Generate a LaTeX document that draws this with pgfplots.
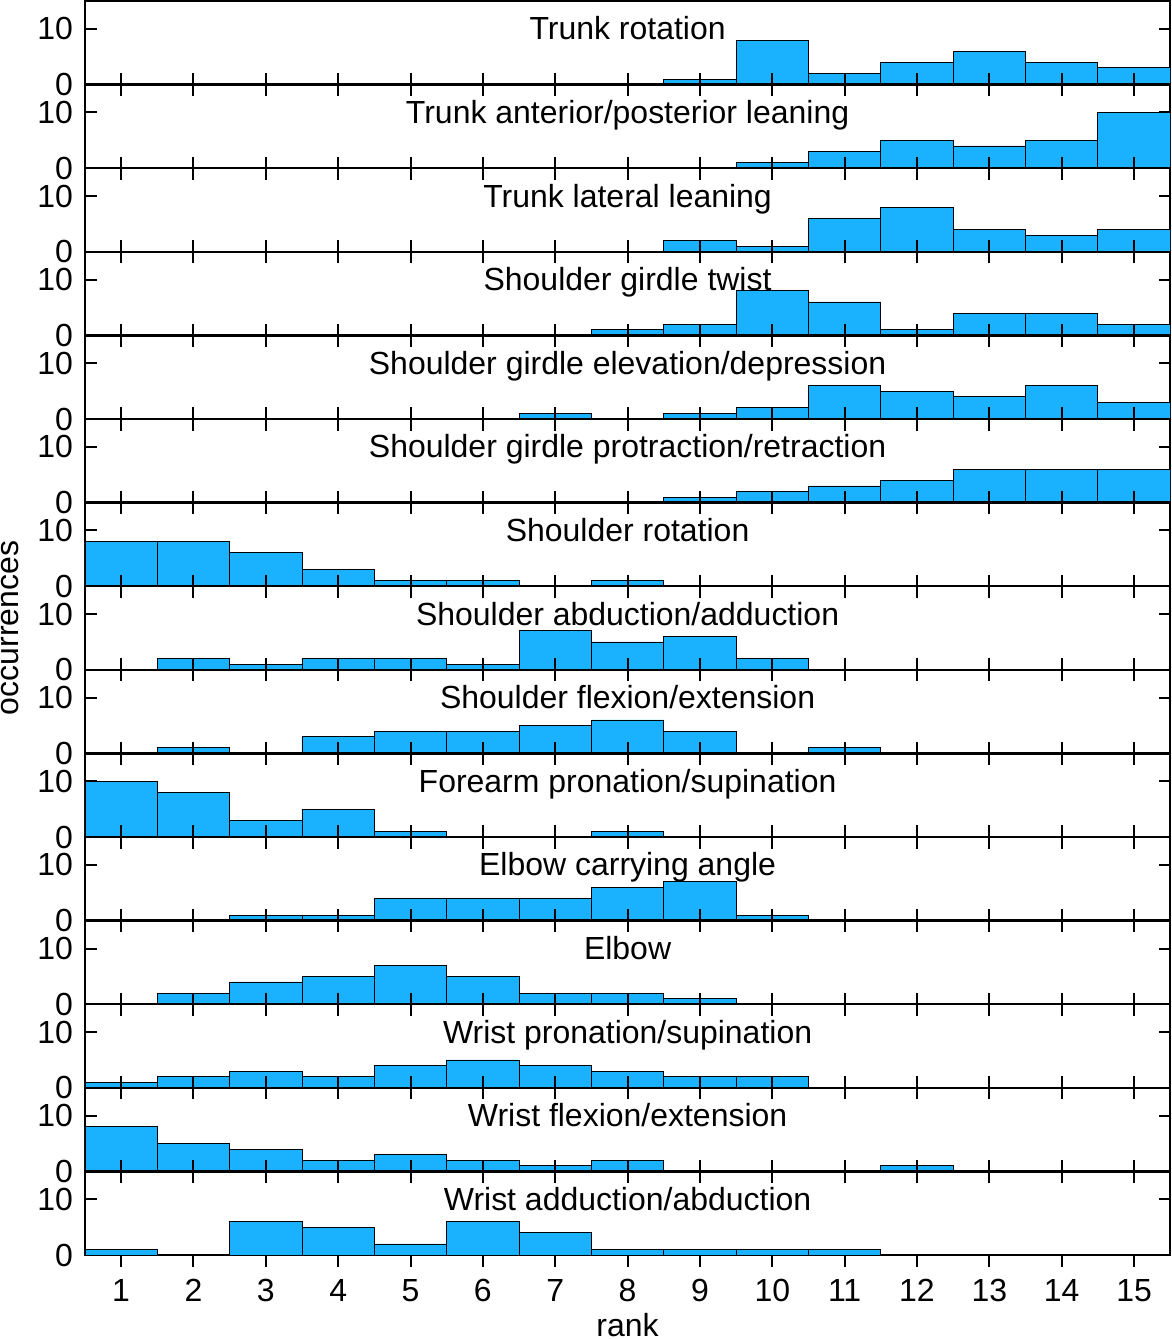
\documentclass[border=0pt]{standalone}
\usepackage{fontspec}
\setmainfont{Liberation Sans}
\usepackage{pgfplots}
\pgfplotsset{compat=1.18}
\usepgfplotslibrary{groupplots}
\definecolor{barblue}{RGB}{26,178,255}
\newcommand{\ttl}[1]{\node[anchor=base,inner sep=0pt,font=\fontsize{16}{19}\selectfont] at (rel axis cs:0.5,0.535) {#1};}
\begin{document}
\begin{tikzpicture}
\begin{groupplot}[
  group style={group size=1 by 15, vertical sep=0pt, xticklabels at=edge bottom},
  scale only axis, width=543pt, height=41.83pt,
  xmin=0.5, xmax=15.5, ymin=0, ymax=15,
  xtick={1,...,15}, ytick={0,10},
  tick align=inside, major tick length=5.8pt,
  every tick/.style={black, line width=1pt},
  axis line style={line width=1.2pt},
  ybar, /pgf/bar width=1,
  cycle list={{fill=barblue, draw=black, line width=0.9pt}},
  /pgf/number format/assume math mode=true,
  ticklabel style={font=\fontsize{16}{19}\selectfont},
  yticklabel style={xshift=-2.5pt},
  xticklabel style={anchor=base, yshift=-17.5pt},
]
\nextgroupplot
\addplot coordinates {(9,1) (10,8) (11,2) (12,4) (13,6) (14,4) (15,3)};
\ttl{Trunk rotation}
\coordinate (tl) at (rel axis cs:0,1);
\nextgroupplot
\addplot coordinates {(10,1) (11,3) (12,5) (13,4) (14,5) (15,10)};
\ttl{Trunk anterior/posterior leaning}
\nextgroupplot
\addplot coordinates {(9,2) (10,1) (11,6) (12,8) (13,4) (14,3) (15,4)};
\ttl{Trunk lateral leaning}
\nextgroupplot
\addplot coordinates {(8,1) (9,2) (10,8) (11,6) (12,1) (13,4) (14,4) (15,2)};
\ttl{Shoulder girdle twist}
\nextgroupplot
\addplot coordinates {(7,1) (9,1) (10,2) (11,6) (12,5) (13,4) (14,6) (15,3)};
\ttl{Shoulder girdle elevation/depression}
\nextgroupplot
\addplot coordinates {(9,1) (10,2) (11,3) (12,4) (13,6) (14,6) (15,6)};
\ttl{Shoulder girdle protraction/retraction}
\nextgroupplot
\addplot coordinates {(1,8) (2,8) (3,6) (4,3) (5,1) (6,1) (8,1)};
\ttl{Shoulder rotation}
\nextgroupplot[ylabel={occurrences},
  ylabel style={at={(axis description cs:-0.0605,0.5)}, anchor=south, inner sep=0pt, font=\fontsize{16}{19}\selectfont}]
\addplot coordinates {(2,2) (3,1) (4,2) (5,2) (6,1) (7,7) (8,5) (9,6) (10,2)};
\ttl{Shoulder abduction/adduction}
\nextgroupplot
\addplot coordinates {(2,1) (4,3) (5,4) (6,4) (7,5) (8,6) (9,4) (11,1)};
\ttl{Shoulder flexion/extension}
\nextgroupplot
\addplot coordinates {(1,10) (2,8) (3,3) (4,5) (5,1) (8,1)};
\ttl{Forearm pronation/supination}
\nextgroupplot
\addplot coordinates {(3,1) (4,1) (5,4) (6,4) (7,4) (8,6) (9,7) (10,1)};
\ttl{Elbow carrying angle}
\nextgroupplot
\addplot coordinates {(2,2) (3,4) (4,5) (5,7) (6,5) (7,2) (8,2) (9,1)};
\ttl{Elbow}
\nextgroupplot
\addplot coordinates {(1,1) (2,2) (3,3) (4,2) (5,4) (6,5) (7,4) (8,3) (9,2) (10,2)};
\ttl{Wrist pronation/supination}
\nextgroupplot
\addplot coordinates {(1,8) (2,5) (3,4) (4,2) (5,3) (6,2) (7,1) (8,2) (12,1)};
\ttl{Wrist flexion/extension}
\nextgroupplot[xlabel={rank},
  xlabel style={at={(axis description cs:0.5,0)}, anchor=base, inner sep=0pt, yshift=-40.5pt, font=\fontsize{16}{19}\selectfont}]
\addplot coordinates {(1,1) (3,6) (4,5) (5,2) (6,6) (7,4) (8,1) (9,1) (10,1) (11,1)};
\ttl{Wrist adduction/abduction}
\coordinate (br) at (rel axis cs:1,0);
\end{groupplot}
\pgfresetboundingbox
\path[use as bounding box] ([xshift=-42.5pt,yshift=0.5pt]tl) rectangle ([xshift=0.6pt,yshift=-42pt]br);
\end{tikzpicture}
\end{document}
